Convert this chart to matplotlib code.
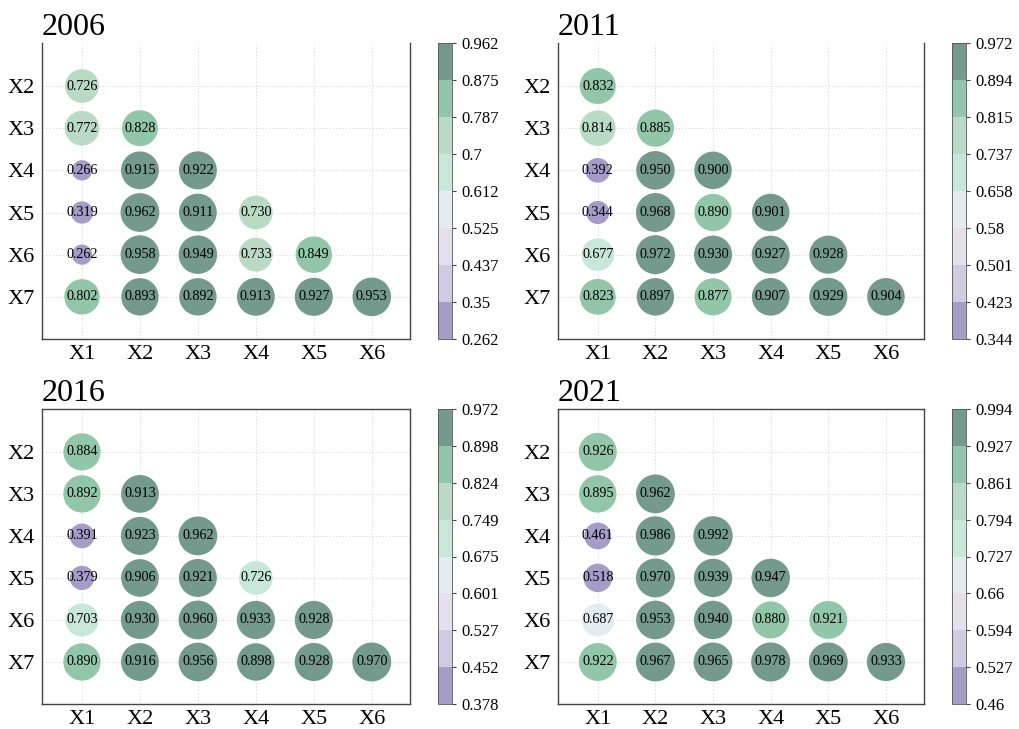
import numpy as np
import matplotlib
matplotlib.use("Agg")
import matplotlib.pyplot as plt
from matplotlib.colors import ListedColormap, BoundaryNorm

plt.rcParams['font.family'] = ['Liberation Serif', 'DejaVu Serif']

years = ["2006", "2011", "2016", "2021"]
x_labels = ["X1", "X2", "X3", "X4", "X5", "X6"]
y_labels = ["X2", "X3", "X4", "X5", "X6", "X7"]

vals_2006 = [
    [0.726],
    [0.772, 0.828],
    [0.266, 0.915, 0.922],
    [0.319, 0.962, 0.911, 0.730],
    [0.262, 0.958, 0.949, 0.733, 0.849],
    [0.802, 0.893, 0.892, 0.913, 0.927, 0.953],
]
vals_2011 = [
    [0.832],
    [0.814, 0.885],
    [0.392, 0.950, 0.900],
    [0.344, 0.968, 0.890, 0.901],
    [0.677, 0.972, 0.930, 0.927, 0.928],
    [0.823, 0.897, 0.877, 0.907, 0.929, 0.904],
]
vals_2016 = [
    [0.884],
    [0.892, 0.913],
    [0.391, 0.923, 0.962],
    [0.379, 0.906, 0.921, 0.726],
    [0.703, 0.930, 0.960, 0.933, 0.928],
    [0.890, 0.916, 0.956, 0.898, 0.928, 0.970],
]
vals_2021 = [
    [0.926],
    [0.895, 0.962],
    [0.461, 0.986, 0.992],
    [0.518, 0.970, 0.939, 0.947],
    [0.687, 0.953, 0.940, 0.880, 0.921],
    [0.922, 0.967, 0.965, 0.978, 0.969, 0.933],
]

cbar_range_2006 = (0.262, 0.962)
cbar_range_2011 = (0.344, 0.972)
cbar_range_2016 = (0.378, 0.972)
cbar_range_2021 = (0.46, 0.994)

cbar_labels_2006 = ["0.262", "0.35", "0.437", "0.525", "0.612", "0.7", "0.787", "0.875", "0.962"]
cbar_labels_2011 = ["0.344", "0.423", "0.501", "0.58", "0.658", "0.737", "0.815", "0.894", "0.972"]
cbar_labels_2016 = ["0.378", "0.452", "0.527", "0.601", "0.675", "0.749", "0.824", "0.898", "0.972"]
cbar_labels_2021 = ["0.46", "0.527", "0.594", "0.66", "0.727", "0.794", "0.861", "0.927", "0.994"]

colors = ["#a59cc8", "#d0cae3", "#e6e0ee", "#e4ecf3",
          "#c7e7d9", "#b9dbc5", "#92c6a8", "#739a8c"]
cmap = ListedColormap(colors)

panels = [
    ("2006", vals_2006, cbar_range_2006, cbar_labels_2006),
    ("2011", vals_2011, cbar_range_2011, cbar_labels_2011),
    ("2016", vals_2016, cbar_range_2016, cbar_labels_2016),
    ("2021", vals_2021, cbar_range_2021, cbar_labels_2021),
]

W, H = 1019, 729
fig = plt.figure(figsize=(W / 100, H / 100), dpi=100)

# pixel boxes (left, top, right, bottom)
ax_boxes = [(42, 43, 410, 339), (558, 43, 924, 339),
            (42, 409, 410, 704), (558, 409, 924, 704)]
cb_boxes = [(438, 43, 452, 339), (952, 43, 966, 339),
            (438, 409, 452, 704), (952, 409, 966, 704)]

def frac(b):
    l, t, r, bt = b
    return [l / W, 1 - bt / H, (r - l) / W, (bt - t) / H]

for i, (title, vals, (vmin, vmax), clabels) in enumerate(panels):
    ax = fig.add_axes(frac(ax_boxes[i]))
    cax = fig.add_axes(frac(cb_boxes[i]))
    bounds = np.linspace(vmin, vmax, 9)
    norm = BoundaryNorm(bounds, cmap.N)

    xs, ys, vs = [], [], []
    for r, row in enumerate(vals):
        for c, v in enumerate(row):
            xs.append(c)
            ys.append(r)
            vs.append(v)
    xs = np.array(xs); ys = np.array(ys); vs = np.array(vs)

    ax.set_axisbelow(True)
    ax.grid(True, linestyle=(0, (2, 2)), color="#dcdcdc", linewidth=0.6)
    ax.scatter(xs, ys, s=vs * 810, c=vs, cmap=cmap, norm=norm,
               edgecolors="none", zorder=3)
    for x, y, v in zip(xs, ys, vs):
        ax.text(x, y, f"{v:.3f}", ha="center", va="center",
                fontsize=10.2, color="black", zorder=4)

    ax.set_xlim(-0.69, 5.66)
    ax.set_ylim(6.0, -1.02)
    ax.set_xticks(range(len(x_labels)))
    ax.set_xticklabels(x_labels)
    ax.set_yticks(range(len(y_labels)))
    ax.set_yticklabels(y_labels)
    ax.tick_params(axis="both", length=0, labelsize=16)
    ax.tick_params(axis="x", pad=4)
    ax.tick_params(axis="y", pad=5)
    for sp in ax.spines.values():
        sp.set_color("#444444")
        sp.set_linewidth(1.0)
    if i < 2:
        ax.spines["top"].set_visible(False)
    ax.set_title(title, loc="left", fontsize=23, pad=6)

    sm = matplotlib.cm.ScalarMappable(norm=norm, cmap=cmap)
    cb = fig.colorbar(sm, cax=cax, boundaries=bounds, ticks=bounds)
    cb.ax.set_yticklabels(clabels)
    cb.ax.tick_params(labelsize=12, length=3, width=0.8, color="#444444")
    cb.outline.set_edgecolor("#555555")
    cb.outline.set_linewidth(0.6)

fig.savefig("out.png", dpi=100)
